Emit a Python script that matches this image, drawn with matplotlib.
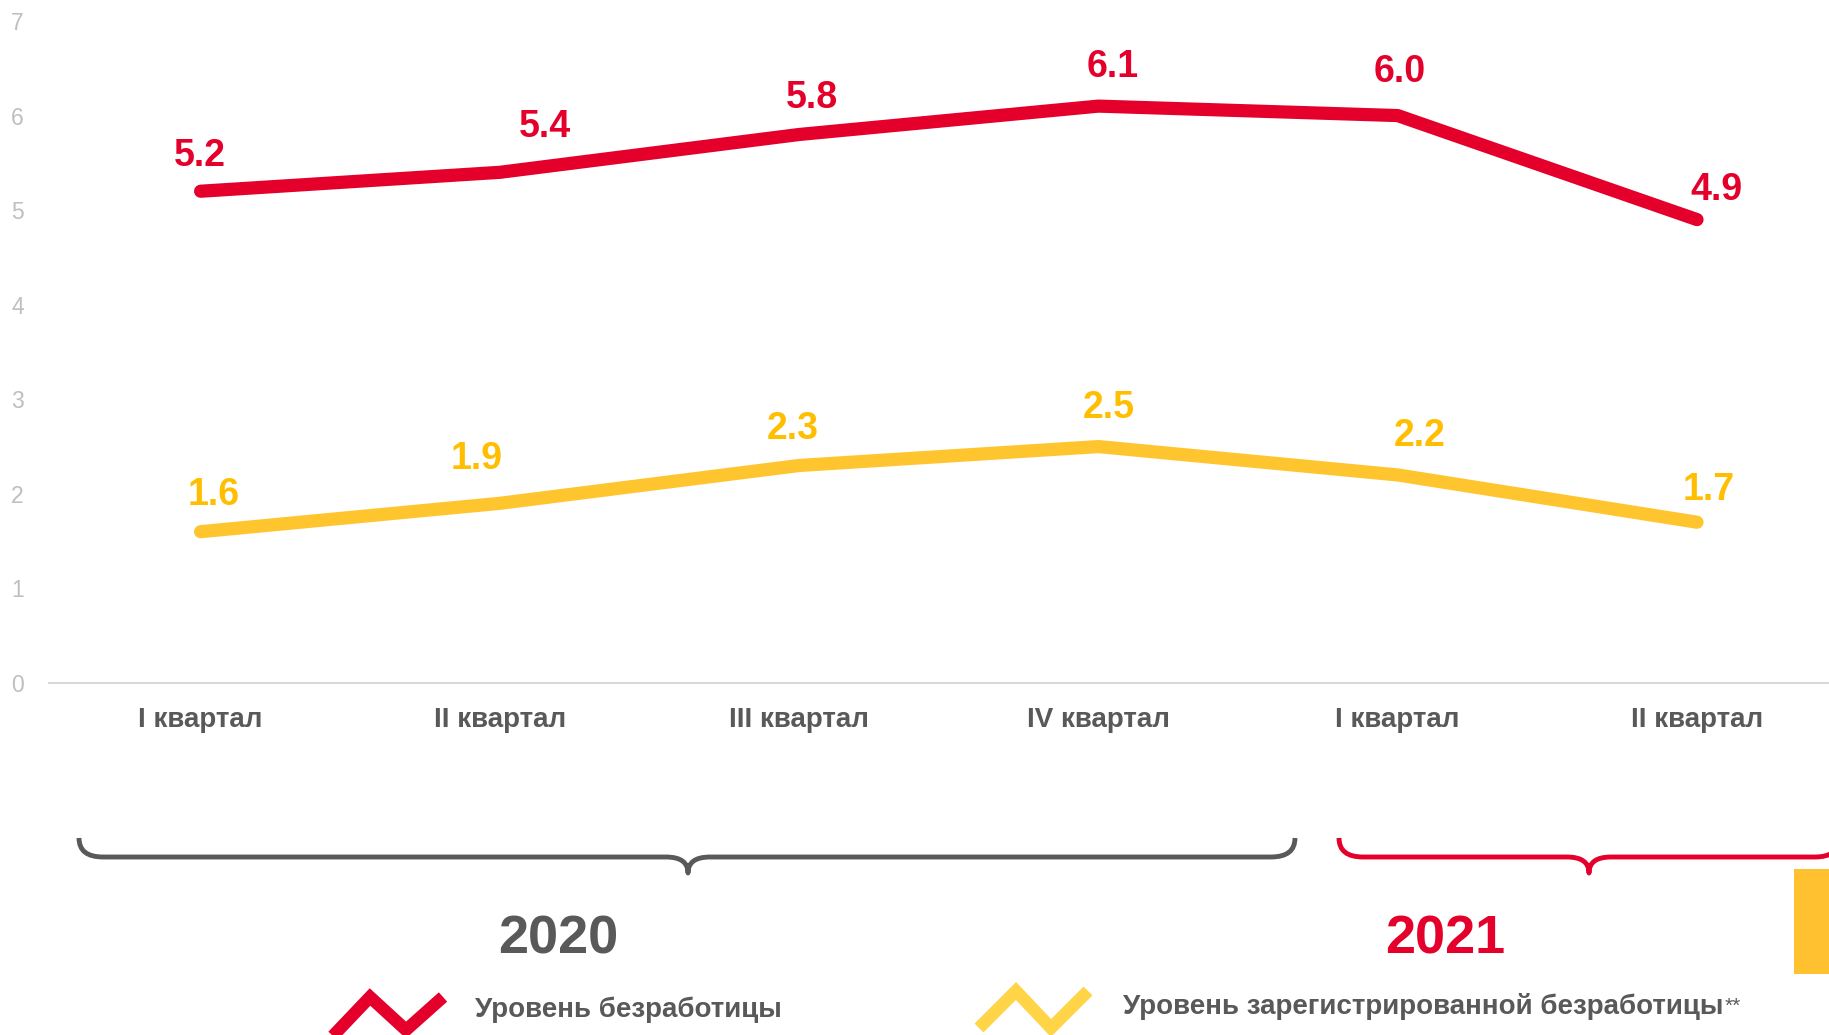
import matplotlib
matplotlib.use("Agg")
import matplotlib.pyplot as plt
from matplotlib.path import Path
from matplotlib.patches import PathPatch, Rectangle

plt.rcParams['font.family'] = ['Liberation Sans', 'DejaVu Sans']

# ---- data ----
quarters = ["I квартал", "II квартал", "III квартал", "IV квартал", "I квартал", "II квартал"]
unemployment = [5.2, 5.4, 5.8, 6.1, 6.0, 4.9]
registered = [1.6, 1.9, 2.3, 2.5, 2.2, 1.7]
years = ["2020", "2021"]
legend_labels = ["Уровень безработицы", "Уровень зарегистрированной безработицы"]
y_ticks = [0, 1, 2, 3, 4, 5, 6, 7]

# ---- styles ----
RED = "#E4002B"
YEL = "#FFC52F"
YEL_TXT = "#FFBF00"
GRAY = "#595959"
LGRAY = "#BFBFBF"
red_off = [(-1, 35), (45, 45), (13, 36), (14, 39), (2, 44), (19, 30)]
yel_off = [(13, 37), (-23, 44), (-6, 36), (10, 39), (22, 39), (12, 32)]

W, H = 1829, 1035
fig = plt.figure(figsize=(W / 100, H / 100), dpi=100)
fig.patch.set_facecolor("white")

ax = fig.add_axes([49 / W, 352 / H, 1 - 49 / W, 662 / H])
x = list(range(len(quarters)))
ax.plot(x, unemployment, color=RED, lw=9.5, solid_capstyle="round", solid_joinstyle="round", zorder=3)
ax.plot(x, registered, color=YEL, lw=9.5, solid_capstyle="round", solid_joinstyle="round", zorder=3)
for i, v in enumerate(unemployment):
    ax.annotate(f"{v:.1f}", (i, v), xytext=red_off[i], textcoords="offset pixels",
                ha="center", va="center", color=RED, fontsize=27, fontweight="bold")
for i, v in enumerate(registered):
    ax.annotate(f"{v:.1f}", (i, v), xytext=yel_off[i], textcoords="offset pixels",
                ha="center", va="center", color=YEL_TXT, fontsize=27, fontweight="bold")

ax.set_xlim(-0.5065, 5.441)
ax.set_ylim(0, 7)
ax.set_yticks(y_ticks)
ax.set_yticklabels([str(t) for t in y_ticks], color=LGRAY, fontsize=16.5)
ax.set_xticks(x)
ax.set_xticklabels(quarters, color=GRAY, fontsize=20, fontweight="bold")
ax.tick_params(axis="y", length=0, pad=18)
ax.tick_params(axis="x", length=0, pad=17)
for s in ["top", "right", "left"]:
    ax.spines[s].set_visible(False)
ax.spines["bottom"].set_color("#D9D9D9")
ax.spines["bottom"].set_linewidth(1.5)
ax.patch.set_alpha(0)

# ---- overlay in pixel coordinates ----
ov = fig.add_axes([0, 0, 1, 1])
ov.set_xlim(0, W)
ov.set_ylim(H, 0)
ov.axis("off")
ov.patch.set_alpha(0)


def brace(x0, x1, xm, ytop, ybar, ytip, r, r2, color):
    verts = [(x0, ytop), (x0, ybar), (x0 + r, ybar),
             (xm - r2, ybar), (xm, ybar), (xm, ytip),
             (xm, ybar), (xm + r2, ybar),
             (x1 - r, ybar), (x1, ybar), (x1, ytop)]
    codes = [Path.MOVETO, Path.CURVE3, Path.CURVE3,
             Path.LINETO, Path.CURVE3, Path.CURVE3,
             Path.CURVE3, Path.CURVE3,
             Path.LINETO, Path.CURVE3, Path.CURVE3]
    ov.add_patch(PathPatch(Path(verts, codes), fill=False, edgecolor=color, lw=3.5,
                           capstyle="butt", joinstyle="round"))


brace(79, 1295, 688, 838, 857, 873, 24, 22, GRAY)
brace(1339, 1839, 1589, 838, 857, 873, 24, 22, RED)

ov.text(558, 939, years[0], ha="center", va="center", color=GRAY, fontsize=39, fontweight="bold")
ov.text(1445, 939, years[1], ha="center", va="center", color=RED, fontsize=39, fontweight="bold")

ov.add_patch(Rectangle((1794, 869), 40, 105, color="#FFC12F", lw=0))

# legend icons
ov.plot([331, 370, 406, 443], [1038, 997, 1030, 997], color=RED, lw=9, solid_joinstyle="miter",
        solid_capstyle="butt")
ov.plot([979, 1016, 1051, 1088], [1028, 991, 1028, 991], color="#FFD447", lw=9,
        solid_joinstyle="miter", solid_capstyle="butt")
ov.text(475, 1010, legend_labels[0], ha="left", va="center", color=GRAY, fontsize=20, fontweight="bold")
t2 = ov.text(1123, 1006, legend_labels[1], ha="left", va="center", color=GRAY, fontsize=20,
             fontweight="bold")
fig.canvas.draw()
bb = t2.get_window_extent()
ov.annotate("**", xy=(bb.x1, bb.y1), xycoords="figure pixels", xytext=(1, -4),
            textcoords="offset pixels", ha="left", va="top", color=GRAY, fontsize=15)

fig.savefig("out.png", dpi=100)
